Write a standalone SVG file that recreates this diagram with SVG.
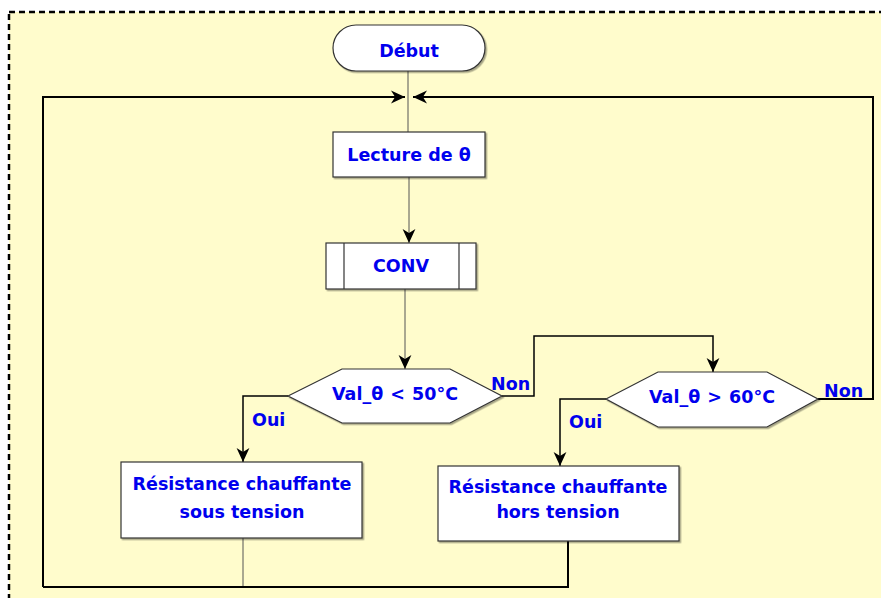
<svg xmlns="http://www.w3.org/2000/svg" width="881" height="598" viewBox="0 0 881 598">
<defs>
<marker id="arr" markerUnits="userSpaceOnUse" markerWidth="14" markerHeight="14" viewBox="0 0 12 12" refX="12" refY="6" orient="auto">
<path d="M0,0.5 L12,6 L0,11.5 L3.5,6 z" fill="#000"/>
</marker>
<filter id="sh" x="-5%" y="-5%" width="115%" height="120%">
<feDropShadow dx="1.5" dy="1.5" stdDeviation="0.6" flood-color="#000" flood-opacity="0.35"/>
</filter>
</defs>
<style>
.shape{fill:#fff;stroke:#333;stroke-width:1.2;filter:url(#sh)}
.t{font-family:"DejaVu Sans",sans-serif;font-weight:bold;font-size:17.5px;fill:#0000ee;text-anchor:middle}
.lbl{font-family:"DejaVu Sans",sans-serif;font-weight:bold;font-size:17.5px;fill:#0000ee}
.thin{fill:none;stroke:#555;stroke-width:1}
.thick{fill:none;stroke:#000;stroke-width:2}
.mid{fill:none;stroke:#000;stroke-width:1.5}
</style>
<rect x="9" y="12" width="880" height="594" fill="#fffccc" stroke="#000" stroke-width="2.5" stroke-dasharray="6,4"/>
<g id="connectors">
<path class="thin" d="M408,71 V132"/>
<path class="thick" d="M43,587 V97 H405" marker-end="url(#arr)"/>
<path class="thick" d="M818,399 H873 V97 H413" marker-end="url(#arr)"/>
<path class="thin" d="M409,177 V243" marker-end="url(#arr)"/>
<path class="thin" stroke="#777055" d="M405,289 V369" marker-end="url(#arr)"/>
<path class="mid" d="M502,396 H534 V336 H713 V372" marker-end="url(#arr)"/>
<path class="mid" d="M288,396 H243 V462" marker-end="url(#arr)"/>
<path class="mid" d="M606,399 H560 V466" marker-end="url(#arr)"/>
<path class="thin" stroke="#000" d="M243,538 V587"/>
<path class="thick" d="M568,541 V587 H43"/>
</g>
<g id="debut">
<rect class="shape" x="333" y="25" width="152" height="46" rx="23" ry="23"/>
<text class="t" x="409" y="57">Début</text>
</g>
<g id="lecture">
<rect class="shape" x="333" y="132" width="152" height="45"/>
<text class="t" x="409" y="161">Lecture de θ</text>
</g>
<g id="conv">
<rect class="shape" x="326" y="243" width="150" height="46"/>
<line x1="344" y1="243" x2="344" y2="289" stroke="#333" stroke-width="1.2"/>
<line x1="459" y1="243" x2="459" y2="289" stroke="#333" stroke-width="1.2"/>
<text class="t" x="401" y="272">CONV</text>
</g>
<g id="test50">
<polygon class="shape" points="288,396 342,369 450,369 502,396 450,423 342,423"/>
<text class="t" x="395" y="400" word-spacing="1">Val_θ &lt; 50°C</text>
<text class="lbl" x="491" y="390">Non</text>
<text class="lbl" x="252" y="426">Oui</text>
</g>
<g id="test60">
<polygon class="shape" points="606,399 658,372 767,372 818,399 767,427 658,427"/>
<text class="t" x="712" y="403" word-spacing="1">Val_θ &gt; 60°C</text>
<text class="lbl" x="824" y="397">Non</text>
<text class="lbl" x="569" y="428">Oui</text>
</g>
<g id="sous">
<rect class="shape" x="121" y="462" width="241" height="76"/>
<text class="t" x="242" y="490">Résistance chauffante</text>
<text class="t" x="242" y="518">sous tension</text>
</g>
<g id="hors">
<rect class="shape" x="438" y="466" width="241" height="75"/>
<text class="t" x="558" y="493">Résistance chauffante</text>
<text class="t" x="558" y="518">hors tension</text>
</g>
</svg>
